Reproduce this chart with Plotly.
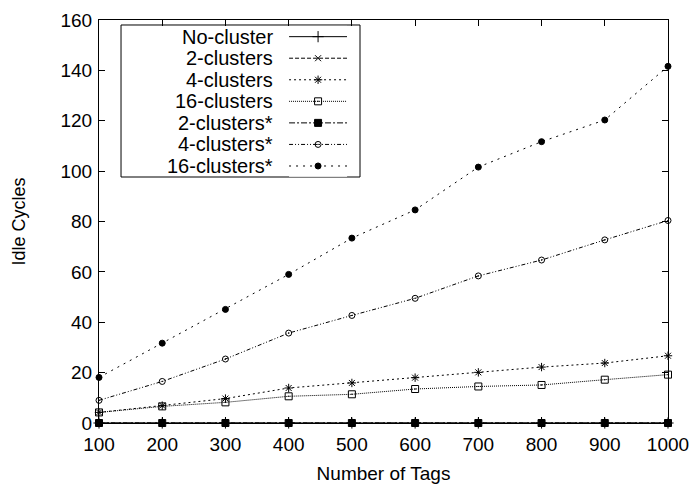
import plotly.graph_objects as go

# Number of tags on the x axis
tags = [100, 200, 300, 400, 500, 600, 700, 800, 900, 1000]

# Idle cycles for each clustering scheme
no_cluster = [0, 0, 0, 0, 0, 0, 0, 0, 0, 0]
clusters_2 = [0, 0, 0, 0, 0, 0, 0, 0, 0, 0]
clusters_4 = [4.2, 6.9, 9.7, 13.9, 15.9, 18.0, 20.1, 22.2, 23.8, 26.7]
clusters_16 = [4.2, 6.6, 8.2, 10.6, 11.4, 13.5, 14.5, 15.1, 17.2, 19.2]
clusters_2s = [0, 0, 0, 0, 0, 0, 0, 0, 0, 0]
clusters_4s = [9.0, 16.5, 25.4, 35.7, 42.7, 49.5, 58.4, 64.7, 72.7, 80.4]
clusters_16s = [18.1, 31.7, 45.1, 59.0, 73.4, 84.6, 101.6, 111.7, 120.3, 141.6]

names = ["No-cluster", "2-clusters", "4-clusters", "16-clusters",
         "2-clusters*", "4-clusters*", "16-clusters*"]
series = [no_cluster, clusters_2, clusters_4, clusters_16,
          clusters_2s, clusters_4s, clusters_16s]
dashes = ["solid", "4px,2px", "2px,3px", "1px,1px",
          "6px,2px,2px,2px", "4px,2px,1px,2px,1px,2px", "2px,5px"]
symbols = ["cross-thin-open", "x-thin-open", "asterisk-open", "square-open-dot",
           "square", "circle-open-dot", "circle"]
sizes = [8, 6, 7, 7, 7, 6, 6]

FONT = "Liberation Sans, Arial, sans-serif"
fig = go.Figure()

for name, ys, dash, sym, sz in zip(names, series, dashes, symbols, sizes):
    fig.add_trace(go.Scatter(
        x=tags, y=ys, name=name, mode="lines+markers",
        line=dict(color="black", width=1, dash=dash),
        marker=dict(symbol=sym, size=sz, color="black",
                    line=dict(color="black", width=1)),
        cliponaxis=False, showlegend=False,
    ))

# Key: sample lines on a small helper axis, labels right-aligned to their left
for i, (name, dash, sym, sz) in enumerate(zip(names, dashes, symbols, sizes)):
    row = i + 1
    fig.add_trace(go.Scatter(
        x=[0, 1], y=[row, row], mode="lines", xaxis="x2", yaxis="y2",
        line=dict(color="black", width=1, dash=dash),
        showlegend=False, hoverinfo="skip", cliponaxis=False,
    ))
    fig.add_trace(go.Scatter(
        x=[0.5], y=[row], mode="markers", xaxis="x2", yaxis="y2",
        marker=dict(symbol=sym, size=sz, color="black",
                    line=dict(color="black", width=1)),
        showlegend=False, hoverinfo="skip", cliponaxis=False,
    ))
    fig.add_annotation(
        x=0.309, xref="paper", y=row, yref="y2", text=name,
        showarrow=False, xanchor="right", yanchor="middle",
        font=dict(family=FONT, size=20, color="black"),
    )

fig.add_shape(type="rect", xref="paper", yref="paper",
              x0=0.0387, x1=0.4587, y0=0.6104, y1=0.9876,
              line=dict(color="black", width=1), fillcolor="white",
              layer="below")

axis_common = dict(
    showgrid=False, zeroline=False, showline=True, linecolor="black",
    linewidth=1, mirror="allticks", ticks="inside", ticklen=6,
    tickcolor="black", tickfont=dict(family=FONT, size=19, color="black"),
    automargin=False,
)

fig.update_layout(
    width=697, height=490,
    margin=dict(l=99, r=29, t=20, b=67),
    plot_bgcolor="white", paper_bgcolor="white",
    font=dict(family=FONT, color="black"),
    xaxis=dict(range=[100, 1000], tickvals=tags, ticklabelstandoff=4,
               title=dict(text="Number of Tags", font=dict(family=FONT, size=19),
                          standoff=12),
               **axis_common),
    yaxis=dict(range=[0, 160], tickvals=[0, 20, 40, 60, 80, 100, 120, 140, 160],
               ticklabelstandoff=2,
               title=dict(text="Idle Cycles", font=dict(family=FONT, size=18),
                          standoff=30),
               **axis_common),
    xaxis2=dict(domain=[0.334, 0.436], range=[0, 1], visible=False,
                anchor="y2", fixedrange=True),
    yaxis2=dict(domain=[0.611, 0.9854], range=[7.5, 0.5], visible=False,
                anchor="x2", fixedrange=True),
    showlegend=False,
)

fig.write_html("out.html")
